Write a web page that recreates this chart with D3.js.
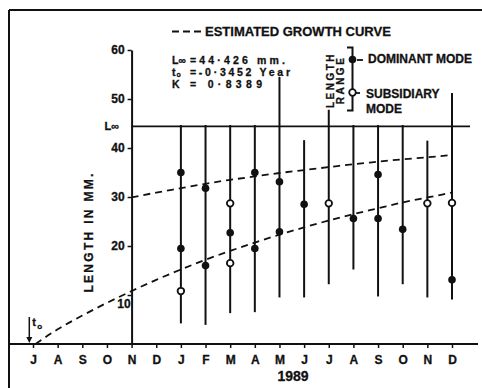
<!DOCTYPE html>
<html>
<head>
<meta charset="utf-8">
<script src="https://cdn.jsdelivr.net/npm/d3@7"></script>
<style>
  html, body { margin: 0; padding: 0; background: #fff; }
  svg { display: block; font-family: "Liberation Sans", Arial, sans-serif; font-weight: bold; }
  svg text { stroke: #111; stroke-width: 0.3px; }
</style>
</head>
<body>
<div id="chart"></div>
<script>
// month axis, July 1988 .. December 1989
var monthLabels = ['J', 'A', 'S', 'O', 'N', 'D', 'J', 'F', 'M', 'A', 'M', 'J', 'J', 'A', 'S', 'O', 'N', 'D'];
var yTicks = [10, 20, 30, 40, 50, 60];
var lInf = 44.426;
var t0Month = -0.15;

// length range per monthly sample (mm)
var barMonth = [6, 7, 8, 9, 10, 11, 12, 13, 14, 15, 16, 17];
var rangeLow = [4.2, 3.9, 6.3, 6.5, 9.5, 9.5, 12.2, 15.2, 9.7, 12.2, 9.5, 9.1];
var rangeHigh = [44.7, 44.7, 44.7, 44.7, 54.5, 41.6, 47.8, 44.7, 44.7, 44.7, 41.5, 51.2];

// dominant modes (filled dots)
var dominantMonth = [6, 6, 7, 7, 8, 9, 9, 10, 10, 11, 13, 14, 14, 15, 17];
var dominantLen = [35.0, 19.5, 31.8, 16.0, 22.7, 35.0, 19.5, 33.1, 22.9, 28.5, 25.6, 34.6, 25.6, 23.4, 13.1];

// subsidiary modes (open dots)
var subsidiaryMonth = [6, 8, 8, 12, 16, 17];
var subsidiaryLen = [10.8, 28.7, 16.5, 28.7, 28.7, 28.8];

// estimated growth curves
var lowerMonth = [0.1, 1, 2, 3, 4, 5, 6, 7, 8, 9, 10, 11, 12, 13, 14, 15, 16, 17];
var lowerLen = [0, 3.0, 5.8, 8.4, 10.8, 13.1, 15.2, 17.2, 19.0, 20.7, 22.3, 23.8, 25.2, 26.5, 27.7, 28.9, 29.9, 30.9];
var upperMonth = [4, 5, 6, 7, 8, 9, 10, 11, 12, 13, 14, 15, 16, 17];
var upperLen = [29.9, 30.9, 31.8, 32.7, 33.5, 34.2, 34.9, 35.5, 36.1, 36.7, 37.2, 37.7, 38.1, 38.6];

var width = 482, height = 388;
var ink = '#111';

var svg = d3.select('#chart').append('svg')
  .attr('width', width)
  .attr('height', height)
  .attr('viewBox', [0, 0, width, height]);

var x = d3.scaleLinear().domain([0, 17]).range([33, 452]);
var y = d3.scaleLinear().domain([0, 60]).range([344, 50]);

// frame
svg.append('line').attr('x1', 9).attr('x2', 482).attr('y1', 10).attr('y2', 10)
  .attr('stroke', ink).attr('stroke-width', 2);
svg.append('line').attr('x1', 9).attr('x2', 9).attr('y1', 10).attr('y2', 388)
  .attr('stroke', ink).attr('stroke-width', 2);
svg.append('line').attr('x1', 9).attr('x2', 478).attr('y1', y(0)).attr('y2', y(0))
  .attr('stroke', ink).attr('stroke-width', 2);

// x axis
var xAxis = svg.append('g')
  .attr('transform', 'translate(0,' + y(0) + ')')
  .call(d3.axisBottom(x)
    .tickValues(d3.range(monthLabels.length))
    .tickFormat(function (i) { return monthLabels[i]; })
    .tickSize(4).tickPadding(7.5).tickSizeOuter(0));
xAxis.select('.domain').remove();
xAxis.selectAll('line').attr('stroke', ink).attr('stroke-width', 1.5);
xAxis.selectAll('text').attr('fill', ink)
  .attr('font-family', '"Liberation Sans", Arial, sans-serif')
  .attr('font-weight', 'bold').attr('font-size', 12);

svg.append('text').attr('x', 293).attr('y', 381)
  .attr('text-anchor', 'middle').attr('font-size', 14).attr('fill', ink)
  .text('1989');

// y axis at November 1988
var yAxis = svg.append('g')
  .attr('transform', 'translate(' + x(4) + ',0)')
  .call(d3.axisLeft(y).tickValues(yTicks).tickSize(4).tickPadding(3).tickSizeOuter(0));
yAxis.select('.domain').attr('stroke', ink).attr('stroke-width', 2);
yAxis.selectAll('line').attr('stroke', ink).attr('stroke-width', 1.5);
yAxis.selectAll('text').attr('fill', ink)
  .attr('font-family', '"Liberation Sans", Arial, sans-serif')
  .attr('font-weight', 'bold').attr('font-size', 12);
yAxis.selectAll('.tick').filter(function (d) { return d === 10; })
  .select('text').attr('dx', 6).attr('dy', '1em');

svg.append('text')
  .attr('transform', 'translate(92.5,232) rotate(-90)')
  .attr('text-anchor', 'middle').attr('font-size', 12).attr('letter-spacing', 2.3)
  .attr('fill', ink).text('LENGTH IN MM.');

// L infinity
svg.append('line').attr('x1', x(4)).attr('x2', 470).attr('y1', y(lInf)).attr('y2', y(lInf))
  .attr('stroke', ink).attr('stroke-width', 1.8);
svg.append('text').attr('x', 119).attr('y', y(lInf) + 4)
  .attr('text-anchor', 'end').attr('font-size', 11).attr('fill', ink).text('L\u221E');

// growth curves
var line = d3.line()
  .x(function (d) { return x(d[0]); })
  .y(function (d) { return y(d[1]); })
  .curve(d3.curveMonotoneX);

[[lowerMonth, lowerLen], [upperMonth, upperLen]].forEach(function (c) {
  svg.append('path')
    .datum(d3.zip(c[0], c[1]))
    .attr('d', line)
    .attr('fill', 'none').attr('stroke', ink)
    .attr('stroke-width', 1.8).attr('stroke-dasharray', '7,5');
});

// t0 arrow
svg.append('line').attr('x1', x(t0Month)).attr('x2', x(t0Month))
  .attr('y1', y(0) - 27).attr('y2', y(0) - 6)
  .attr('stroke', ink).attr('stroke-width', 1.5);
svg.append('path')
  .attr('d', 'M' + (x(t0Month) - 3) + ',' + (y(0) - 7) + 'L' + (x(t0Month) + 3) + ',' + (y(0) - 7) + 'L' + x(t0Month) + ',' + (y(0) - 1) + 'Z')
  .attr('fill', ink);
svg.append('text').attr('x', x(t0Month) + 3).attr('y', y(0) - 18)
  .attr('font-size', 11).attr('fill', ink).text('t');
svg.append('text').attr('x', x(t0Month) + 8).attr('y', y(0) - 15)
  .attr('font-size', 8).attr('fill', ink).text('o');

// length ranges
svg.append('g').selectAll('line')
  .data(barMonth)
  .join('line')
  .attr('x1', function (d) { return x(d); })
  .attr('x2', function (d) { return x(d); })
  .attr('y1', function (d, i) { return y(rangeLow[i]); })
  .attr('y2', function (d, i) { return y(rangeHigh[i]); })
  .attr('stroke', ink).attr('stroke-width', 2);

// modes
svg.append('g').selectAll('circle')
  .data(dominantMonth)
  .join('circle')
  .attr('cx', function (d) { return x(d); })
  .attr('cy', function (d, i) { return y(dominantLen[i]); })
  .attr('r', 3.8).attr('fill', ink);

svg.append('g').selectAll('circle')
  .data(subsidiaryMonth)
  .join('circle')
  .attr('cx', function (d) { return x(d); })
  .attr('cy', function (d, i) { return y(subsidiaryLen[i]); })
  .attr('r', 3.3).attr('fill', '#fff').attr('stroke', ink).attr('stroke-width', 1.8);

// legend: growth curve + parameters
svg.append('line').attr('x1', 172).attr('x2', 201).attr('y1', 31.5).attr('y2', 31.5)
  .attr('stroke', ink).attr('stroke-width', 2).attr('stroke-dasharray', '7,4');
svg.append('text').attr('x', 205).attr('y', 36).attr('font-size', 13).attr('fill', ink)
  .text('ESTIMATED GROWTH CURVE');

var params = svg.append('g').attr('fill', ink).attr('font-size', 10.5);
params.append('text').attr('x', 172).attr('y', 63.5).text('L\u221E');
params.append('text').attr('x', 190).attr('y', 63.5)
  .attr('textLength', 95).attr('lengthAdjust', 'spacing').text('=44\u00B7426 mm.');
params.append('text').attr('x', 172).attr('y', 75.5).text('t');
params.append('text').attr('x', 176.5).attr('y', 77).attr('font-size', 7).text('o');
params.append('text').attr('x', 190).attr('y', 75.5)
  .attr('textLength', 100).attr('lengthAdjust', 'spacing').text('=-0\u00B73452 Year');
params.append('text').attr('x', 172).attr('y', 88).text('K');
params.append('text').attr('x', 190).attr('y', 88)
  .attr('textLength', 72).attr('lengthAdjust', 'spacing').text('= 0\u00B78389');

// legend: length range / modes
var lg = svg.append('g');
lg.append('text').attr('transform', 'translate(333.5,80) rotate(-90)')
  .attr('text-anchor', 'middle').attr('font-size', 10).attr('letter-spacing', 2.5)
  .attr('fill', ink).text('LENGTH');
lg.append('text').attr('transform', 'translate(343.5,80) rotate(-90)')
  .attr('text-anchor', 'middle').attr('font-size', 10).attr('letter-spacing', 2.5)
  .attr('fill', ink).text('RANGE');
lg.append('path').attr('d', 'M347,47.5H352.5V110.5H347')
  .attr('fill', 'none').attr('stroke', ink).attr('stroke-width', 2);
lg.append('circle').attr('cx', 352.5).attr('cy', 59.5).attr('r', 3.8).attr('fill', ink);
lg.append('circle').attr('cx', 352.5).attr('cy', 92.5).attr('r', 3.3)
  .attr('fill', '#fff').attr('stroke', ink).attr('stroke-width', 1.8);
lg.append('line').attr('x1', 357).attr('x2', 363).attr('y1', 60).attr('y2', 60)
  .attr('stroke', ink).attr('stroke-width', 1.8);
lg.append('line').attr('x1', 356).attr('x2', 360).attr('y1', 93).attr('y2', 93)
  .attr('stroke', ink).attr('stroke-width', 1.8);
lg.append('text').attr('x', 368).attr('y', 63).attr('font-size', 12).attr('fill', ink)
  .text('DOMINANT MODE');
lg.append('text').attr('x', 366).attr('y', 98).attr('font-size', 12).attr('fill', ink)
  .text('SUBSIDIARY');
lg.append('text').attr('x', 366).attr('y', 112.5).attr('font-size', 12).attr('fill', ink)
  .text('MODE');
</script>
</body>
</html>
